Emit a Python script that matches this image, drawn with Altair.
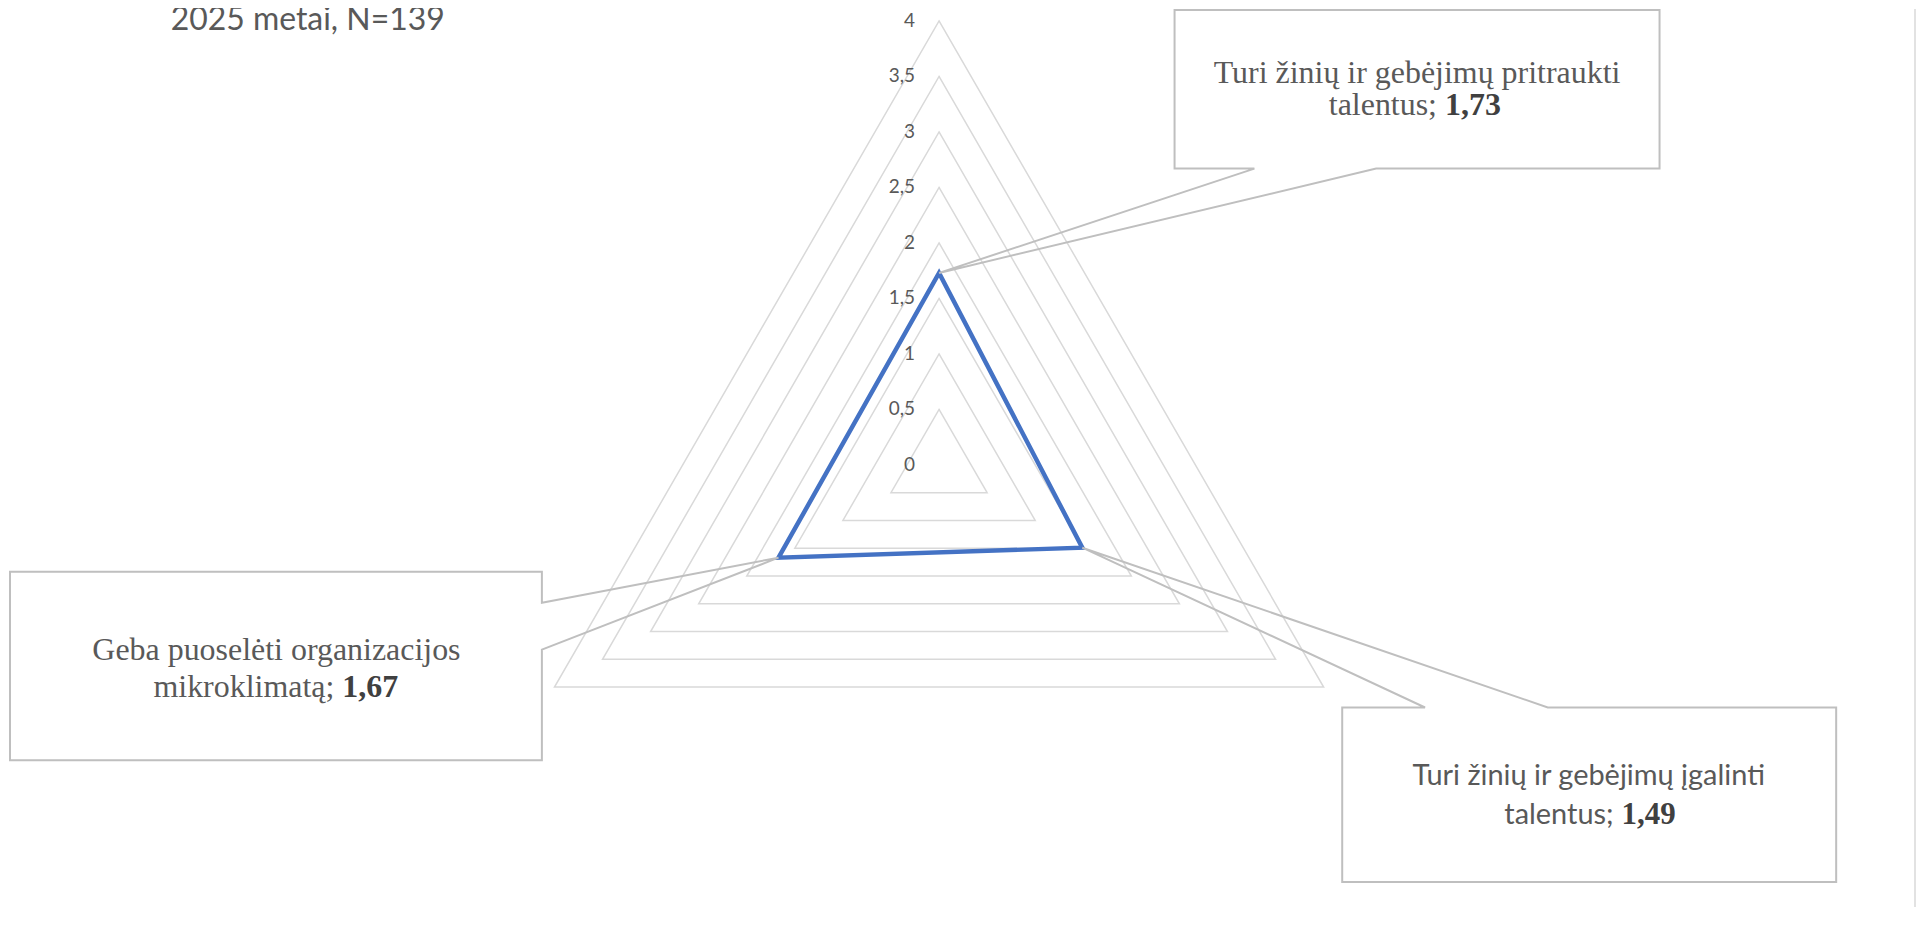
import math
import altair as alt
import pandas as pd

# ---------------- data ----------------
categories = [
    "Turi žinių ir gebėjimų pritraukti talentus",
    "Turi žinių ir gebėjimų įgalinti talentus",
    "Geba puoselėti organizacijos mikroklimatą",
]
values = [1.73, 1.49, 1.67]
tick_values = [0, 0.5, 1, 1.5, 2, 2.5, 3, 3.5, 4]
tick_labels = ["0", "0,5", "1", "1,5", "2", "2,5", "3", "3,5", "4"]
label_line1 = [
    "Turi žinių ir gebėjimų pritraukti",
    "Turi žinių ir gebėjimų įgalinti",
    "Geba puoselėti organizacijos",
]
label_line2 = ["talentus;", "talentus;", "mikroklimatą;"]
subtitle = "2025 metai, N=139"

# ---------------- layout (page pixels) ----------------
W, H = 1914, 900
MARGIN = 8
CX, CY = 941, 465          # radar centre on the page
PPU = 111.25               # pixels per value unit


def ux(p):
    return (p - CX) / PPU


def uy(p):
    return (CY - p) / PPU


XDOM = [ux(MARGIN), ux(MARGIN + W)]
YDOM = [uy(MARGIN + H), uy(MARGIN)]

LAYOUT = [
    dict(box=(1177, 9, 1663, 168), side="bottom", a=(1257, 1379), cx=1420,
         b1=82, b2=114, split=(1440, 1448), sans=False, nsize=32),
    dict(box=(1345, 708, 1840, 883), side="top", a=(1428, 1551), cx=1592,
         b1=786, b2=825, split=(1617, 1625), sans=True, nsize=31),
    dict(box=(10, 572, 543, 761), side="right", a=(603, 650), cx=277,
         b1=660, b2=697, split=(335, 343), sans=False, nsize=32),
]

GRID = "#d9d9d9"
BOXC = "#bfbfbf"
TXT = "#595959"
BLUE = "#4472C4"


def ang(i):
    return math.radians(90 - 120 * i)


def polar(v, i):
    return v * math.cos(ang(i)), v * math.sin(ang(i))


# grid triangles (closed, first edge repeated for a clean join)
grid_rows = []
for lv in tick_values[1:]:
    for k in range(5):
        x, y = polar(lv, k % 3)
        grid_rows.append(dict(level=lv, k=k, x=x, y=y))
grid_df = pd.DataFrame(grid_rows)

series_rows = []
for k in range(5):
    x, y = polar(values[k % 3], k % 3)
    series_rows.append(dict(k=k, x=x, y=y))
series_df = pd.DataFrame(series_rows)

# callout outlines
call_rows = []
for i, L in enumerate(LAYOUT):
    l, t, r, b = L["box"]
    tx, ty = polar(values[i], i)
    a1, a2 = L["a"]
    if L["side"] == "bottom":
        pts = [(l, t), (r, t), (r, b), (a2, b), None, (a1, b), (l, b), (l, t), (r, t)]
    elif L["side"] == "top":
        pts = [(l, t), (a1, t), None, (a2, t), (r, t), (r, b), (l, b), (l, t), (a1, t)]
    else:
        pts = [(l, t), (r, t), (r, a1), None, (r, a2), (r, b), (l, b), (l, t), (r, t)]
    for k, p in enumerate(pts):
        if p is None:
            call_rows.append(dict(box=i, k=k, x=tx, y=ty))
        else:
            call_rows.append(dict(box=i, k=k, x=ux(p[0]), y=uy(p[1])))
call_df = pd.DataFrame(call_rows)

tick_df = pd.DataFrame({"x": [0.0] * len(tick_values), "y": tick_values, "t": tick_labels})


def fmt(v):
    return f"{v:.2f}".replace(".", ",")


serif_c, serif_r, sans_c, sans_r, nums = [], [], [], [], []
for i, L in enumerate(LAYOUT):
    (serif_c if not L["sans"] else sans_c).append(
        dict(x=ux(L["cx"]), y=uy(L["b1"]), t=label_line1[i]))
    (serif_r if not L["sans"] else sans_r).append(
        dict(x=ux(L["split"][0]), y=uy(L["b2"]), t=label_line2[i]))
    nums.append(dict(x=ux(L["split"][1]), y=uy(L["b2"]), t=fmt(values[i]), s=L["nsize"]))

sub_df = pd.DataFrame([dict(x=ux(171), y=uy(29), t=subtitle)])

X = lambda: alt.X("x:Q", scale=alt.Scale(domain=XDOM, nice=False, zero=False), axis=None)
Y = lambda: alt.Y("y:Q", scale=alt.Scale(domain=YDOM, nice=False, zero=False), axis=None)

grid = alt.Chart(grid_df).mark_line(color=GRID, strokeWidth=1.5).encode(
    x=X(), y=Y(), detail="level:N", order="k:Q")

calls = alt.Chart(call_df).mark_line(color=BOXC, strokeWidth=2).encode(
    x=X(), y=Y(), detail="box:N", order="k:Q")

series = alt.Chart(series_df).mark_line(color=BLUE, strokeWidth=4.5, strokeJoin="miter").encode(
    x=X(), y=Y(), order="k:Q")

ticks = alt.Chart(tick_df).mark_text(
    font="Lato", fontSize=19, color=TXT, align="right", baseline="middle", dx=-24
).encode(x=X(), y=Y(), text="t:N")


def txt(rows, font, size, align, weight="normal", color=TXT):
    return alt.Chart(pd.DataFrame(rows)).mark_text(
        font=font, fontSize=size, color=color, align=align, baseline="alphabetic",
        fontWeight=weight
    ).encode(x=X(), y=Y(), text="t:N")


t1 = txt(serif_c, "Liberation Serif", 32, "center")
t2 = txt(serif_r, "Liberation Serif", 32, "right")
t3 = txt(sans_c, "Lato", 29, "center")
t4 = txt(sans_r, "Lato", 29, "right")
t5 = alt.Chart(pd.DataFrame(nums)).mark_text(
    font="Liberation Serif", color="#404040", align="left", baseline="alphabetic",
    fontWeight="bold"
).encode(x=X(), y=Y(), text="t:N", size=alt.Size("s:Q", scale=None, legend=None))

sub = alt.Chart(sub_df).mark_text(
    font="Lato", fontSize=32, color=TXT, align="left", baseline="alphabetic"
).encode(x=X(), y=Y(), text="t:N")

border = alt.Chart(pd.DataFrame({"a": [0]})).mark_rule(color=GRID, strokeWidth=1.5).encode(
    x=alt.value(1911), y=alt.value(0), y2=alt.value(H))

chart = alt.layer(grid, series, calls, ticks, t1, t2, t3, t4, t5, sub, border).properties(
    width=W, height=H, padding=0, background="white",
    autosize=alt.AutoSizeParams(type="none"),
).configure_view(stroke=None)

chart.save("out.html", embed_options={"renderer": "svg", "actions": False})
